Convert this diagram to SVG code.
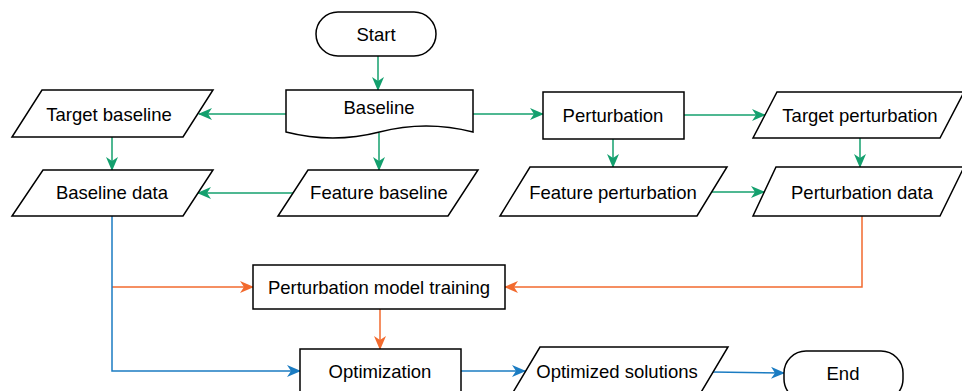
<svg xmlns="http://www.w3.org/2000/svg" width="962" height="391" viewBox="0 0 962 391">
  <style>
    .shape { fill: #ffffff; stroke: #000000; stroke-width: 1.5; }
    .label { font-family: "Liberation Sans", Arial, sans-serif; font-size: 18.5px; fill: #000000; text-anchor: middle; dominant-baseline: central; }
    .edge { fill: none; stroke-width: 1.5; }
    .green { stroke: #14a06e; }
    .orange { stroke: #f26a2e; }
    .blue { stroke: #1b7cc2; }
  </style>
  <defs>
    <marker id="arrow-green" markerUnits="userSpaceOnUse" markerWidth="14" markerHeight="12" refX="13" refY="6" orient="auto">
      <path d="M0,0 L14,6 L0,12 L4,6 Z" fill="#14a06e"/>
    </marker>
    <marker id="arrow-orange" markerUnits="userSpaceOnUse" markerWidth="14" markerHeight="12" refX="13" refY="6" orient="auto">
      <path d="M0,0 L14,6 L0,12 L4,6 Z" fill="#f26a2e"/>
    </marker>
    <marker id="arrow-blue" markerUnits="userSpaceOnUse" markerWidth="14" markerHeight="12" refX="13" refY="6" orient="auto">
      <path d="M0,0 L14,6 L0,12 L4,6 Z" fill="#1b7cc2"/>
    </marker>
  </defs>

  <rect width="962" height="391" fill="#ffffff"/>

  <!-- connectors -->
  <g id="connectors">
    <path class="edge green" d="M378,56 V90" marker-end="url(#arrow-green)"/>
    <path class="edge green" d="M286,114 H199" marker-end="url(#arrow-green)"/>
    <path class="edge green" d="M379,133 V170" marker-end="url(#arrow-green)"/>
    <path class="edge green" d="M112,137 V170" marker-end="url(#arrow-green)"/>
    <path class="edge green" d="M293,193 H198" marker-end="url(#arrow-green)"/>
    <path class="edge green" d="M473,114 H543" marker-end="url(#arrow-green)"/>
    <path class="edge green" d="M684,115 H765" marker-end="url(#arrow-green)"/>
    <path class="edge green" d="M613,139 V167" marker-end="url(#arrow-green)"/>
    <path class="edge green" d="M712,192 H764" marker-end="url(#arrow-green)"/>
    <path class="edge green" d="M860,138 V167" marker-end="url(#arrow-green)"/>
    <path class="edge orange" d="M862,216 V287 H505" marker-end="url(#arrow-orange)"/>
    <path class="edge orange" d="M112,287 H253" marker-end="url(#arrow-orange)"/>
    <path class="edge orange" d="M380,309 V349" marker-end="url(#arrow-orange)"/>
    <path class="edge blue" d="M112,216 V371 H300" marker-end="url(#arrow-blue)"/>
    <path class="edge blue" d="M461,371 H525" marker-end="url(#arrow-blue)"/>
    <path class="edge blue" d="M712,372 L784,373" marker-end="url(#arrow-blue)"/>
  </g>

  <!-- nodes -->
  <g id="start">
    <rect class="shape" x="316" y="12" width="120" height="44" rx="22"/>
    <text class="label" x="376" y="34">Start</text>
  </g>

  <g id="baseline">
    <path class="shape" d="M286,90 H473 V132 Q426,120 379.5,132 Q333,144 286,132 Z"/>
    <text class="label" x="379" y="107">Baseline</text>
  </g>

  <g id="target-baseline">
    <polygon class="shape" points="42,90 213,90 183,137 12,137"/>
    <text class="label" x="109" y="114">Target baseline</text>
  </g>

  <g id="baseline-data">
    <polygon class="shape" points="43,170 213,170 183,216 12,216"/>
    <text class="label" x="112" y="192">Baseline data</text>
  </g>

  <g id="feature-baseline">
    <polygon class="shape" points="308,170 478,170 448,216 278,216"/>
    <text class="label" x="379" y="192">Feature baseline</text>
  </g>

  <g id="perturbation">
    <rect class="shape" x="543" y="92" width="141" height="47"/>
    <text class="label" x="613" y="115">Perturbation</text>
  </g>

  <g id="target-perturbation">
    <polygon class="shape" points="777,92 964,92 940,138 753,138"/>
    <text class="label" x="860" y="115">Target perturbation</text>
  </g>

  <g id="feature-perturbation">
    <polygon class="shape" points="530,167 727,167 697,216 500,216"/>
    <text class="label" x="613" y="192">Feature perturbation</text>
  </g>

  <g id="perturbation-data">
    <polygon class="shape" points="776,167 964,167 940,216 753,216"/>
    <text class="label" x="862" y="192">Perturbation data</text>
  </g>

  <g id="perturbation-model-training">
    <rect class="shape" x="253" y="265" width="252" height="44"/>
    <text class="label" x="379" y="287">Perturbation model training</text>
  </g>

  <g id="optimization">
    <rect class="shape" x="300" y="349" width="161" height="50"/>
    <text class="label" x="380" y="371">Optimization</text>
  </g>

  <g id="optimized-solutions">
    <polygon class="shape" points="540,347 728,347 700,394 512,394"/>
    <text class="label" x="617" y="371">Optimized solutions</text>
  </g>

  <g id="end">
    <rect class="shape" x="784" y="351" width="119" height="50" rx="22"/>
    <text class="label" x="843" y="373">End</text>
  </g>
</svg>
